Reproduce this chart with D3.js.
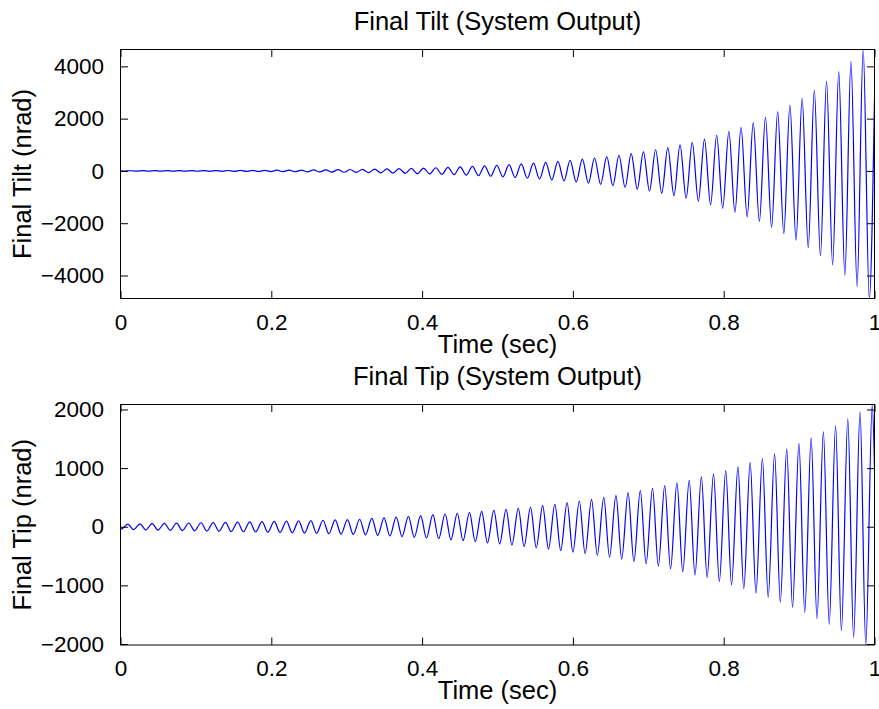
<!DOCTYPE html>
<html><head><meta charset="utf-8">
<script src="https://cdn.jsdelivr.net/npm/d3@7/dist/d3.min.js"></script>
<style>
body{margin:0;background:#fff}
svg{display:block}
text{font-family:"Liberation Sans",Arial,Helvetica,sans-serif;fill:#000}
</style></head>
<body><svg id="chart" width="879" height="709"></svg>
<script>
// ---------- data ----------
const xTickValues = [0, 0.2, 0.4, 0.6, 0.8, 1];
const xTickLabels = ["0", "0.2", "0.4", "0.6", "0.8", "1"];
const tiltTickValues = [-4000, -2000, 0, 2000, 4000];
const tiltTickLabels = ["\u22124000", "\u22122000", "0", "2000", "4000"];
const tipTickValues = [-2000, -1000, 0, 1000, 2000];
const tipTickLabels = ["\u22122000", "\u22121000", "0", "1000", "2000"];

// Final Tilt: start/end samples, then the peaks and troughs of the oscillation
const tiltStart = [0, 0];
const tiltEnd = [1, 2770];
const tiltPeakTime = [0.0131,0.0293,0.0455,0.0617,0.0779,0.0941,0.1103,0.1265,0.1427,0.1589,0.1751,0.1913,0.2075,0.2237,0.2399,0.2561,0.2723,0.2885,0.3047,0.3209,0.3371,0.3533,0.3695,0.3857,0.4019,0.4181,0.4343,0.4505,0.4667,0.4829,0.4991,0.5153,0.5315,0.5477,0.5639,0.5801,0.5963,0.6125,0.6287,0.6449,0.6611,0.6773,0.6935,0.7097,0.7259,0.7421,0.7583,0.7745,0.7907,0.8069,0.8230,0.8392,0.8554,0.8716,0.8878,0.9040,0.9202,0.9364,0.9526,0.9688,0.9850];
const tiltPeakValue = [7,8,9,10,11,12,13,15,17,19,21,24,27,30,34,38,43,48,54,61,68,77,86,97,109,122,137,154,172,193,215,240,267,297,330,366,405,448,495,545,600,662,732,810,895,995,1098,1220,1365,1518,1671,1851,2054,2271,2512,2780,3086,3430,3801,4195,4645];
const tiltTroughTime = [0.0050,0.0212,0.0374,0.0536,0.0698,0.0860,0.1022,0.1184,0.1346,0.1508,0.1670,0.1832,0.1994,0.2156,0.2318,0.2480,0.2642,0.2804,0.2966,0.3128,0.3290,0.3452,0.3614,0.3776,0.3938,0.4100,0.4262,0.4424,0.4586,0.4748,0.4910,0.5072,0.5234,0.5396,0.5558,0.5720,0.5882,0.6044,0.6206,0.6368,0.6530,0.6692,0.6854,0.7016,0.7178,0.7340,0.7502,0.7664,0.7826,0.7987,0.8149,0.8311,0.8473,0.8635,0.8797,0.8959,0.9121,0.9283,0.9445,0.9607,0.9769,0.9931];
const tiltTroughValue = [-6,-7,-8,-9,-10,-11,-13,-14,-16,-18,-20,-22,-25,-28,-32,-36,-40,-45,-51,-57,-64,-72,-82,-92,-103,-115,-129,-145,-163,-182,-204,-227,-252,-280,-310,-343,-380,-420,-465,-512,-565,-627,-694,-768,-852,-945,-1045,-1160,-1290,-1430,-1580,-1759,-1935,-2164,-2394,-2650,-2929,-3250,-3595,-3989,-4421,-4880];

// Final Tip
const tipStart = [0, 0];
const tipEnd = [1, 1000];
const tipPeakTime = [0.0097,0.0259,0.0420,0.0582,0.0744,0.0906,0.1068,0.1230,0.1392,0.1553,0.1715,0.1877,0.2039,0.2201,0.2363,0.2525,0.2686,0.2848,0.3010,0.3172,0.3334,0.3496,0.3657,0.3819,0.3981,0.4143,0.4305,0.4467,0.4628,0.4790,0.4952,0.5114,0.5276,0.5438,0.5599,0.5761,0.5923,0.6085,0.6247,0.6409,0.6571,0.6732,0.6894,0.7056,0.7218,0.7380,0.7542,0.7704,0.7865,0.8027,0.8189,0.8351,0.8513,0.8675,0.8836,0.8998,0.9160,0.9322,0.9484,0.9646,0.9808,0.9970];
const tipPeakValue = [46,50,54,58,61,64,68,71,75,79,83,87,91,96,101,106,111,116,122,128,142,152,165,177,188,205,217,228,245,262,279,296,313,336,359,382,410,439,467,501,535,576,615,655,701,747,792,850,901,957,1026,1099,1168,1248,1328,1419,1516,1618,1721,1841,1960,2085];
const tipTroughTime = [0.0012,0.0174,0.0335,0.0497,0.0659,0.0821,0.0983,0.1145,0.1307,0.1468,0.1630,0.1792,0.1954,0.2116,0.2278,0.2440,0.2601,0.2763,0.2925,0.3087,0.3249,0.3411,0.3572,0.3734,0.3896,0.4058,0.4220,0.4382,0.4543,0.4705,0.4867,0.5029,0.5191,0.5353,0.5514,0.5676,0.5838,0.6000,0.6162,0.6324,0.6486,0.6647,0.6809,0.6971,0.7133,0.7295,0.7457,0.7619,0.7780,0.7942,0.8104,0.8266,0.8428,0.8590,0.8751,0.8913,0.9075,0.9237,0.9399,0.9561,0.9723,0.9885];
const tipTroughValue = [-40,-49,-53,-57,-61,-65,-69,-73,-77,-81,-85,-89,-93,-98,-103,-108,-113,-119,-125,-131,-137,-148,-158,-168,-180,-192,-205,-222,-238,-255,-274,-291,-313,-336,-359,-382,-405,-432,-458,-485,-518,-552,-593,-632,-672,-718,-769,-821,-867,-935,-991,-1055,-1134,-1202,-1288,-1373,-1459,-1567,-1664,-1772,-1886,-2017];

// ---------- build series ----------
function buildSeries(start, end, pt, pv, tt, tv) {
  const pts = [start, end];
  pt.forEach((t, i) => pts.push([t, pv[i]]));
  tt.forEach((t, i) => pts.push([t, tv[i]]));
  return pts.sort((a, b) => a[0] - b[0]);
}
const tiltSeries = buildSeries(tiltStart, tiltEnd, tiltPeakTime, tiltPeakValue, tiltTroughTime, tiltTroughValue);
const tipSeries = buildSeries(tipStart, tipEnd, tipPeakTime, tipPeakValue, tipTroughTime, tipTroughValue);

// ---------- drawing ----------
const svg = d3.select("#chart");
const FS = 22.5;   // tick labels
const LFS = 25.5;  // titles and axis labels
const left = 120.5, right = 874.5;

function panel(cfg) {
  const {top, bottom, series, yTicks, yLabels, title, ylabel, id} = cfg;
  const x = d3.scaleLinear().domain([0, 1]).range([left, right]);
  const y = d3.scaleLinear().domain(d3.extent(series, d => d[1])).range([bottom, top]);
  const g = svg.append("g");
  const tl = 7.5;

  g.append("clipPath").attr("id", id).append("rect")
    .attr("x", left).attr("y", top).attr("width", right - left).attr("height", bottom - top);

  // data line
  g.append("path").datum(series)
    .attr("clip-path", `url(#${id})`)
    .attr("fill", "none").attr("stroke", "#0000ff").attr("stroke-width", 1.2)
    .attr("d", d3.line().x(d => x(d[0])).y(d => y(d[1])).curve(d3.curveMonotoneX));

  // axes via d3 axis generators (inward ticks)
  const xb = d3.axisBottom(x).tickValues(xTickValues).tickSize(-tl).tickFormat((d, i) => xTickLabels[i]).tickPadding(tl + 8);
  const xt = d3.axisTop(x).tickValues(xTickValues).tickSize(-tl).tickFormat("");
  const yl = d3.axisLeft(y).tickValues(yTicks).tickSize(-tl).tickFormat((d, i) => yLabels[i]).tickPadding(tl + 9);
  const yr = d3.axisRight(y).tickValues(yTicks).tickSize(-tl).tickFormat("");

  const gxb = g.append("g").attr("transform", `translate(0,${bottom})`).call(xb);
  const gxt = g.append("g").attr("transform", `translate(0,${top})`).call(xt);
  const gyl = g.append("g").attr("transform", `translate(${left},0)`).call(yl);
  const gyr = g.append("g").attr("transform", `translate(${right},0)`).call(yr);
  [gxb, gxt, gyl, gyr].forEach(a => {
    a.select(".domain").remove();
    a.selectAll(".tick line").attr("stroke", "#000").attr("stroke-width", 1);
    a.selectAll("text").style("font-size", FS + "px").attr("fill", "#000")
      .style("font-family", '"Liberation Sans",Arial,sans-serif');
  });

  // frame
  g.append("rect").attr("x", left).attr("y", top).attr("width", right - left).attr("height", bottom - top)
    .attr("fill", "none").attr("stroke", "#000").attr("stroke-width", 1);

  // titles / labels
  g.append("text").attr("x", (left + right) / 2).attr("y", top - 20)
    .attr("text-anchor", "middle").style("font-size", LFS + "px").text(title);
  g.append("text").attr("x", (left + right) / 2).attr("y", bottom + 54)
    .attr("text-anchor", "middle").style("font-size", LFS + "px").text("Time (sec)");
  g.append("text").attr("transform", `translate(31,${(top + bottom) / 2}) rotate(-90)`)
    .attr("text-anchor", "middle").style("font-size", LFS + "px").text(ylabel);
}

panel({id: "clipTilt", top: 49.5, bottom: 298.5, series: tiltSeries, yTicks: tiltTickValues, yLabels: tiltTickLabels,
  title: "Final Tilt (System Output)", ylabel: "Final Tilt (nrad)"});
panel({id: "clipTip", top: 404.5, bottom: 645, series: tipSeries, yTicks: tipTickValues, yLabels: tipTickLabels,
  title: "Final Tip (System Output)", ylabel: "Final Tip (nrad)"});
</script>
</body></html>
